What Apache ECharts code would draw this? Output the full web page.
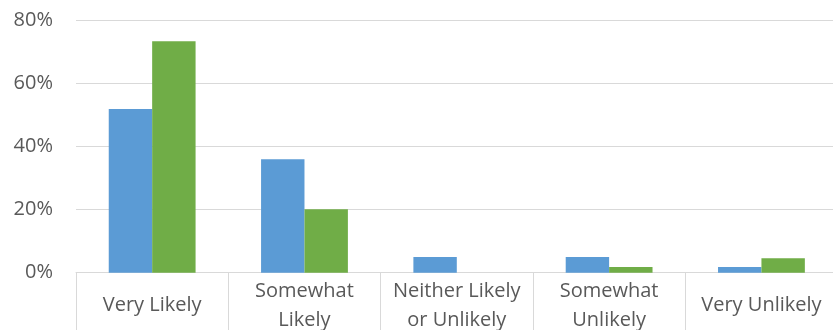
<!DOCTYPE html>
<html>
<head>
<meta charset="utf-8">
<script src="https://cdn.jsdelivr.net/npm/echarts@6/dist/echarts.min.js"></script>
<style>
html,body{margin:0;padding:0;background:#fff;}
#chart{width:833px;height:330px;}
</style>
</head>
<body>
<div id="chart"></div>
<script>
const categories = ["Very Likely", "Somewhat Likely", "Neither Likely or Unlikely", "Somewhat Unlikely", "Very Unlikely"];
const categoryLabels = ["Very Likely", "Somewhat\nLikely", "Neither Likely\nor Unlikely", "Somewhat\nUnlikely", "Very Unlikely"];
const seriesBlue = [51.8, 35.9, 5.0, 5.0, 1.8];
const seriesGreen = [73.3, 20.1, 0, 1.8, 4.6];
const yTicks = [0, 20, 40, 60, 80];

const chart = echarts.init(document.getElementById('chart'), null, {renderer: 'canvas'});
const font = '"Open Sans", "Liberation Sans", sans-serif';
chart.setOption({
  animation: false,
  backgroundColor: '#ffffff',
  grid: {left: 76, top: 20, bottom: 57.3, right: -4.6, containLabel: false, outerBoundsMode: 'none'},
  xAxis: {
    type: 'category',
    data: categories,
    boundaryGap: true,
    axisLine: {show: true, lineStyle: {color: '#d9d9d9', width: 1}},
    axisTick: {show: true, length: 70, lineStyle: {color: '#d9d9d9', width: 1}},
    axisLabel: {
      interval: 0,
      color: '#595959',
      fontFamily: font,
      fontSize: 20,
      lineHeight: 29,
      verticalAlign: 'middle',
      margin: 33,
      hideOverlap: false,
      formatter: function (v) { return categoryLabels[categories.indexOf(v)]; }
    }
  },
  yAxis: {
    type: 'value',
    min: yTicks[0],
    max: yTicks[yTicks.length - 1],
    interval: 20,
    axisLine: {show: false},
    axisTick: {show: false},
    splitLine: {show: true, lineStyle: {color: '#d9d9d9', width: 1}},
    axisLabel: {
      color: '#595959',
      fontFamily: font,
      fontSize: 20,
      margin: 23,
      formatter: '{value}%'
    }
  },
  series: [
    {type: 'bar', data: seriesBlue, itemStyle: {color: '#5B9BD5'}, barGap: '0%', barCategoryGap: '43%'},
    {type: 'bar', data: seriesGreen, itemStyle: {color: '#70AD47'}, barGap: '0%', barCategoryGap: '43%'}
  ]
});
</script>
</body>
</html>
